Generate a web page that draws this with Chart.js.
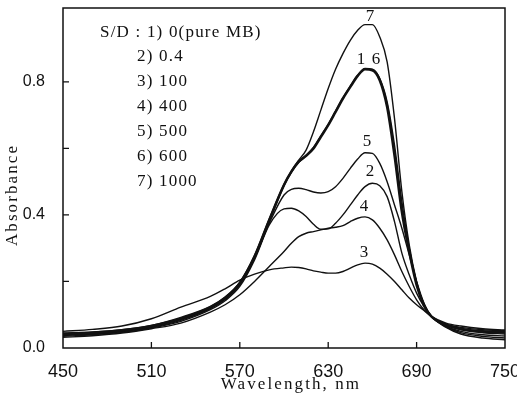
<!DOCTYPE html>
<html><head><meta charset="utf-8">
<script src="https://cdn.jsdelivr.net/npm/chart.js@4/dist/chart.umd.min.js"></script>
<style>html,body{margin:0;padding:0;background:#fff}</style>
</head><body>
<canvas id="c" width="517" height="399"></canvas>
<script>
// ---- data ----
const wavelengths = [450,470,490,510,530,550,560,570,580,590,600,605,610,615,620,625,630,635,640,645,650,655,660,665,670,675,680,685,690,695,700,710,720,735,750];
const curve1 = [.042,.046,.053,.066,.088,.122,.150,.195,.275,.385,.490,.530,.560,.578,.600,.635,.670,.710,.750,.785,.818,.838,.835,.805,.725,.580,.410,.290,.190,.128,.095,.070,.058,.050,.047];
const curve2 = [.035,.040,.047,.060,.080,.115,.142,.185,.265,.370,.418,.420,.412,.395,.372,.357,.358,.375,.400,.430,.460,.485,.495,.488,.455,.380,.285,.220,.165,.125,.095,.072,.062,.055,.052];
const curve3 = [.050,.056,.066,.088,.123,.155,.178,.204,.222,.235,.241,.243,.242,.238,.232,.228,.225,.225,.230,.240,.250,.255,.252,.240,.222,.200,.175,.150,.130,.113,.095,.075,.066,.058,.054];
const curve4 = [.032,.037,.045,.058,.075,.108,.130,.160,.200,.245,.290,.315,.335,.345,.350,.355,.360,.363,.368,.380,.390,.394,.385,.360,.325,.280,.230,.185,.145,.115,.095,.068,.055,.046,.042];
const curve5 = [.038,.042,.049,.062,.083,.118,.146,.190,.270,.375,.460,.477,.480,.476,.469,.466,.470,.485,.510,.540,.568,.587,.585,.555,.500,.430,.360,.280,.200,.135,.095,.066,.050,.040,.036];
const curve6 = [.040,.044,.051,.064,.086,.120,.148,.193,.272,.380,.488,.528,.558,.578,.603,.637,.672,.712,.752,.787,.820,.840,.838,.810,.740,.610,.440,.300,.195,.130,.095,.064,.046,.035,.030];
const curve7 = [.045,.048,.055,.068,.092,.125,.153,.198,.278,.388,.492,.532,.565,.595,.650,.715,.780,.838,.885,.925,.955,.972,.972,.935,.860,.690,.470,.310,.200,.130,.095,.062,.042,.030,.025];
const seriesLabels = ['1','2','3','4','5','6','7'];
const seriesValues = [curve1,curve2,curve3,curve4,curve5,curve6,curve7];
const xTickValues = [450,510,570,630,690,750];
const yTickValues = [0,0.2,0.4,0.6,0.8];
const yTickLabels = ['0.0','','0.4','','0.8'];
const xTitle = 'Wavelength, nm';
const yTitle = 'Absorbance';
const legendTitle = 'S/D : 1) 0(pure MB)';
const legendItems = ['2) 0.4','3) 100','4) 400','5) 500','6) 600','7) 1000'];
const curveTags = [
  {text:'7', x:658.4, y:0.995},
  {text:'1', x:652.3, y:0.866},
  {text:'6', x:662.4, y:0.866},
  {text:'5', x:656.3, y:0.620},
  {text:'2', x:658.4, y:0.529},
  {text:'4', x:654.3, y:0.424},
  {text:'3', x:654.3, y:0.286}
];

const INK = '#111';
const SERIF = '"Liberation Serif", "Times New Roman", serif';
const SANS = '"Liberation Sans", Arial, sans-serif';
const datasets = seriesValues.map((vals,i)=>({
  label: seriesLabels[i],
  data: vals.map((v,j)=>({x:wavelengths[j], y:v})),
  borderColor: INK,
  borderWidth: i===0 ? 2.6 : 1.4,
  pointRadius: 0,
  fill: false,
  cubicInterpolationMode: 'monotone'
}));

const decor = {
  id:'decor',
  afterDraw(chart){
    const {ctx, chartArea:a, scales:{x,y}} = chart;
    ctx.save();
    ctx.strokeStyle = INK; ctx.lineWidth = 1.5;
    ctx.strokeRect(a.left, a.top, a.right-a.left, a.bottom-a.top);
    ctx.lineWidth = 1.3;
    ctx.beginPath();
    yTickValues.slice(1).forEach(v=>{const p=y.getPixelForValue(v); ctx.moveTo(a.left,p); ctx.lineTo(a.left+6,p);});
    xTickValues.slice(1,-1).forEach(v=>{const p=x.getPixelForValue(v); ctx.moveTo(p,a.bottom); ctx.lineTo(p,a.bottom-6);});
    ctx.stroke();
    ctx.fillStyle = INK;
    ctx.font = '17px ' + SERIF;
    ctx.textAlign = 'center'; ctx.textBaseline = 'middle';
    ctx.letterSpacing = '0px';
    curveTags.forEach(t=>ctx.fillText(t.text, x.getPixelForValue(t.x), y.getPixelForValue(t.y)));
    // axis titles
    ctx.letterSpacing = '2.1px';
    ctx.fillText(xTitle, (a.left+a.right)/2 + 7, 385);
    ctx.save();
    ctx.translate(13, 195);
    ctx.rotate(-Math.PI/2);
    ctx.fillText(yTitle, 0, 0);
    ctx.restore();
    // legend block
    ctx.letterSpacing = '1.2px';
    ctx.textAlign = 'left';
    ctx.fillText(legendTitle, a.left+37, a.top+25);
    legendItems.forEach((s,i)=>ctx.fillText(s, a.left+74, a.top+49+i*25));
    ctx.restore();
  }
};

new Chart(document.getElementById('c'), {
  type:'line',
  data:{datasets},
  options:{
    responsive:false, animation:false,
    layout:{padding:{top:8,right:12,left:0,bottom:0}},
    plugins:{legend:{display:false}, tooltip:{enabled:false}},
    scales:{
      x:{type:'linear', min:450, max:750,
        afterFit(s){ s.height = 51; s.paddingLeft = 0; s.paddingRight = 0; },
        afterBuildTicks(s){ s.ticks = xTickValues.map(v=>({value:v})); },
        grid:{display:false}, border:{display:false},
        ticks:{color:INK, padding:5, font:{family:SANS, size:18}, maxRotation:0, autoSkip:false},
        title:{display:false, text:xTitle}
      },
      y:{min:0, max:1.022,
        afterFit(s){ s.width = 63; s.paddingTop = 0; s.paddingBottom = 0; },
        afterBuildTicks(s){ s.ticks = yTickValues.map(v=>({value:v})); },
        grid:{display:false}, border:{display:false},
        ticks:{color:INK, padding:10, font:{family:SANS, size:16},
          callback:(v,i)=>yTickLabels[i]},
        title:{display:false, text:yTitle}
      }
    }
  },
  plugins:[decor]
});
</script>
</body></html>
